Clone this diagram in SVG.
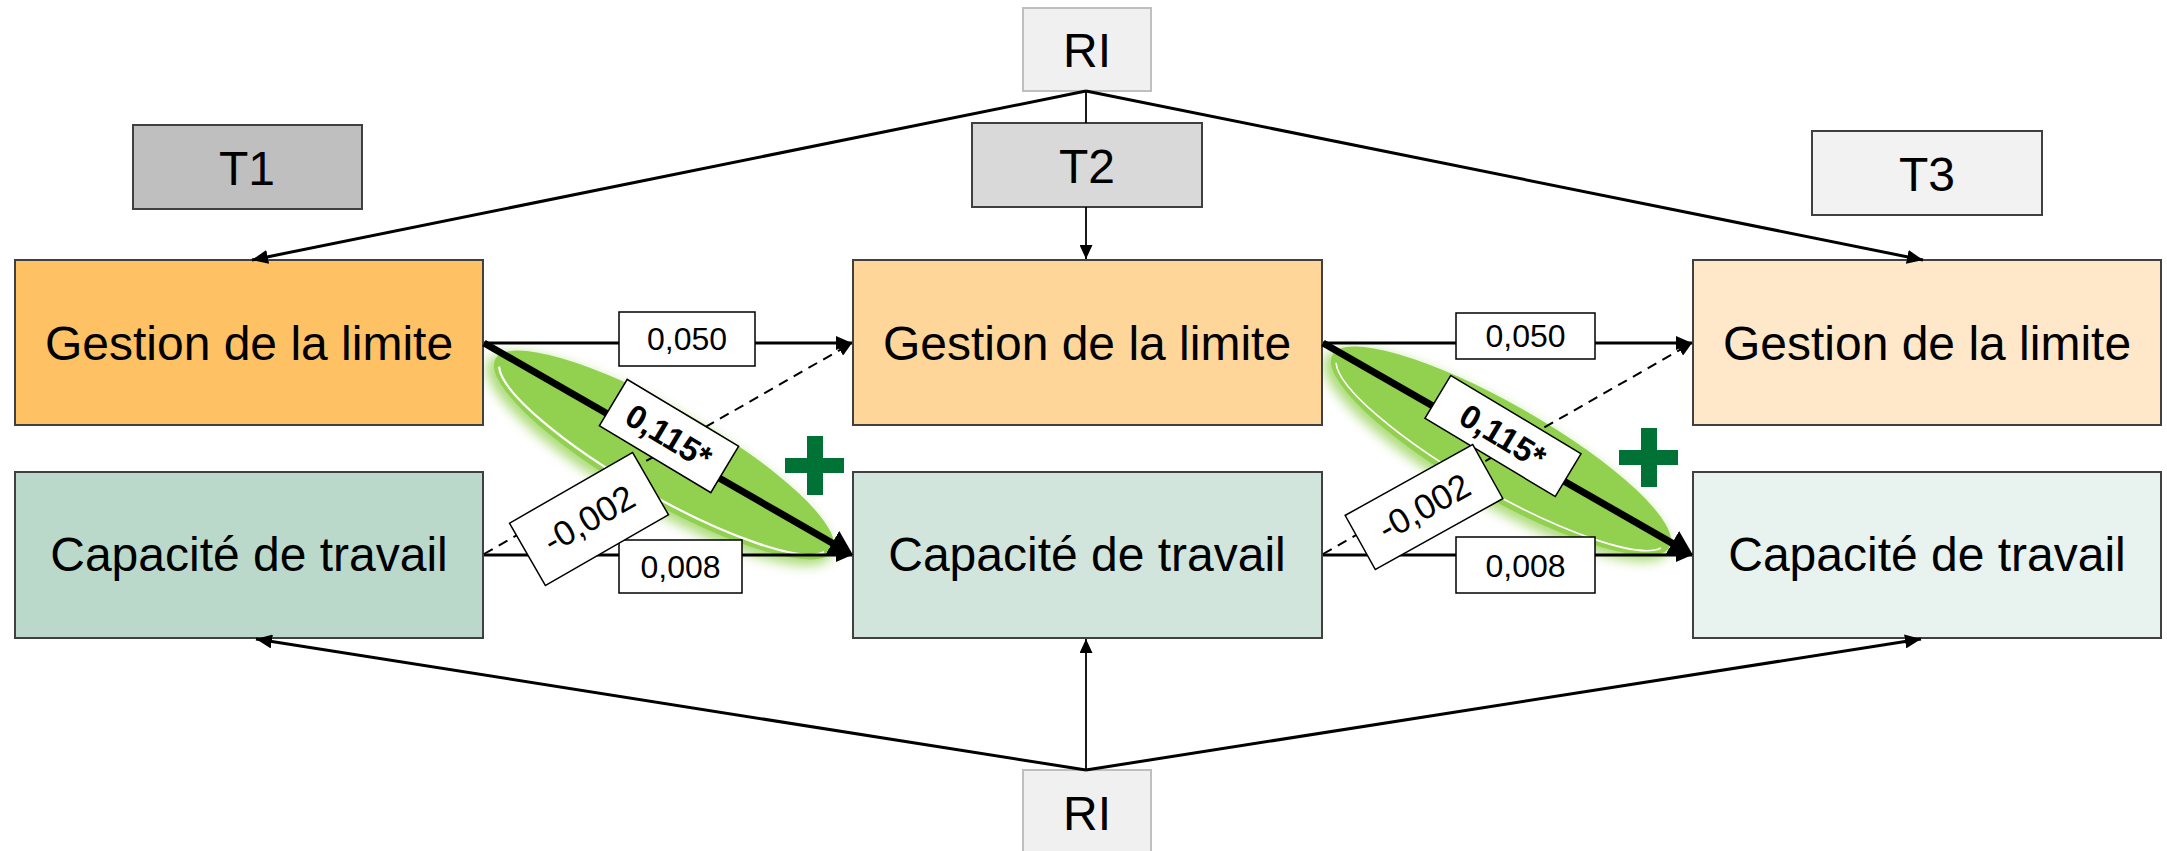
<svg xmlns="http://www.w3.org/2000/svg" width="2167" height="851" viewBox="0 0 2167 851">
<defs>
<style>
.box{stroke:#404040;stroke-width:2}
.t48{font-family:"Liberation Sans",Arial,sans-serif;font-size:48px;fill:#000;text-anchor:middle}
.lab{font-family:"Liberation Sans",Arial,sans-serif;font-size:32px;fill:#000;text-anchor:middle}
.labb{font-family:"Liberation Sans",Arial,sans-serif;font-size:33px;font-weight:bold;fill:#000;text-anchor:middle}
.lab2{font-family:"Liberation Sans",Arial,sans-serif;font-size:35px;fill:#000;text-anchor:middle}
.lbox{fill:#fff;stroke:#000;stroke-width:1.5}
.ln{stroke:#000;stroke-width:3;fill:none}
.thin{stroke:#000;stroke-width:1.8;fill:none}
.dash{stroke:#000;stroke-width:2;fill:none;stroke-dasharray:10 7}
.thick{stroke:#000;stroke-width:7;fill:none}
.plus{fill:#007236}
</style>
<marker id="ah" markerUnits="userSpaceOnUse" markerWidth="16" markerHeight="14" refX="16" refY="7" orient="auto"><path d="M0,0 L16,7 L0,14 z" fill="#000"/></marker>
<marker id="ahs" markerUnits="userSpaceOnUse" markerWidth="14" markerHeight="13" refX="14" refY="6.5" orient="auto"><path d="M0,0 L14,6.5 L0,13 z" fill="#000"/></marker>
<marker id="ahb" markerUnits="userSpaceOnUse" markerWidth="24" markerHeight="28" refX="10" refY="14" orient="auto"><path d="M0,0 L24,14 L0,28 z" fill="#000"/></marker>
<filter id="glow" x="-30%" y="-80%" width="160%" height="260%"><feGaussianBlur stdDeviation="6"/></filter>
</defs>
<rect width="2167" height="851" fill="#fff"/>

<g id="ovals">
<g transform="translate(664,455) rotate(29.7)">
<ellipse cx="-2" cy="6" rx="197" ry="49" fill="#92D050" opacity="0.75" filter="url(#glow)"/>
<ellipse cx="0" cy="0" rx="194" ry="47" fill="#92D050"/>
<path d="M-187,5 A189 42 0 0 0 187,5" fill="none" stroke="#fff" stroke-width="2.2"/>
</g>
<g transform="translate(1501,451) rotate(29.7)">
<ellipse cx="-2" cy="6" rx="197" ry="49" fill="#92D050" opacity="0.75" filter="url(#glow)"/>
<ellipse cx="0" cy="0" rx="194" ry="47" fill="#92D050"/>
<path d="M-187,5 A189 42 0 0 0 187,5" fill="none" stroke="#fff" stroke-width="1.6"/>
</g>
</g>

<g id="RI_top"><rect x="1023" y="8" width="128" height="83" fill="#F0F0F0" stroke="#BFBFBF" stroke-width="2"/><text class="t48" x="1087" y="67">RI</text></g>
<g id="RI_bottom"><rect x="1023" y="770" width="128" height="90" fill="#F0F0F0" stroke="#BFBFBF" stroke-width="2"/><text class="t48" x="1087" y="830">RI</text></g>
<g id="T1"><rect class="box" x="133" y="125" width="229" height="84" fill="#BFBFBF"/><text class="t48" x="247" y="185">T1</text></g>
<g id="T2"><rect class="box" x="972" y="123" width="230" height="84" fill="#D9D9D9"/><text class="t48" x="1087" y="183">T2</text></g>
<g id="T3"><rect class="box" x="1812" y="131" width="230" height="84" fill="#F2F2F2"/><text class="t48" x="1927" y="191">T3</text></g>

<g id="GL1"><rect class="box" x="15" y="260" width="468" height="165" fill="#FEC164"/><text class="t48" x="249" y="360">Gestion de la limite</text></g>
<g id="GL2"><rect class="box" x="853" y="260" width="469" height="165" fill="#FED699"/><text class="t48" x="1087" y="360">Gestion de la limite</text></g>
<g id="GL3"><rect class="box" x="1693" y="260" width="468" height="165" fill="#FFE8C9"/><text class="t48" x="1927" y="360">Gestion de la limite</text></g>
<g id="CT1"><rect class="box" x="15" y="472" width="468" height="166" fill="#BBD9CB"/><text class="t48" x="249" y="571">Capacité de travail</text></g>
<g id="CT2"><rect class="box" x="853" y="472" width="469" height="166" fill="#D2E5DD"/><text class="t48" x="1087" y="571">Capacité de travail</text></g>
<g id="CT3"><rect class="box" x="1693" y="472" width="468" height="166" fill="#E8F2EE"/><text class="t48" x="1927" y="571">Capacité de travail</text></g>

<g id="connectors">
<line class="ln" x1="1086" y1="91" x2="252" y2="260" marker-end="url(#ah)"/>
<line class="ln" x1="1086" y1="91" x2="1923" y2="260" marker-end="url(#ah)"/>
<line class="thin" x1="1086" y1="91" x2="1086" y2="123"/>
<line class="thin" x1="1086" y1="207" x2="1086" y2="259" marker-end="url(#ahs)"/>
<line class="ln" x1="1086" y1="770" x2="256" y2="639" marker-end="url(#ah)"/>
<line class="ln" x1="1086" y1="770" x2="1921" y2="639" marker-end="url(#ah)"/>
<line class="thin" x1="1086" y1="770" x2="1086" y2="639" marker-end="url(#ahs)"/>

<line class="ln" x1="484" y1="343" x2="852" y2="343" marker-end="url(#ah)"/>
<line class="ln" x1="484" y1="555" x2="852" y2="555" marker-end="url(#ah)"/>
<line class="dash" x1="484" y1="554" x2="852" y2="343" marker-end="url(#ahs)"/>
<line class="thick" x1="484" y1="343" x2="840.9" y2="548" marker-end="url(#ahb)"/>

<line class="ln" x1="1323" y1="343" x2="1692" y2="343" marker-end="url(#ah)"/>
<line class="ln" x1="1323" y1="555" x2="1692" y2="555" marker-end="url(#ah)"/>
<line class="dash" x1="1323" y1="554" x2="1692" y2="343" marker-end="url(#ahs)"/>
<line class="thick" x1="1323" y1="343" x2="1680.8" y2="548.1" marker-end="url(#ahb)"/>
</g>

<g id="labels">
<rect class="lbox" x="619" y="312" width="136" height="54"/><text class="lab" x="687" y="350">0,050</text>
<rect class="lbox" x="619" y="540" width="123" height="53"/><text class="lab" x="680.5" y="578">0,008</text>
<g transform="translate(669,436) rotate(31)"><rect class="lbox" x="-65" y="-27" width="130" height="54"/><text class="labb" x="0" y="12">0,115*</text></g>
<g transform="translate(589,519) rotate(-29.9)"><rect class="lbox" x="-71" y="-36" width="142" height="72"/><text class="lab2" x="0" y="12">-0,002</text></g>

<rect class="lbox" x="1456" y="313" width="139" height="46"/><text class="lab" x="1525.5" y="347">0,050</text>
<rect class="lbox" x="1456" y="537" width="139" height="56"/><text class="lab" x="1525.5" y="577">0,008</text>
<g transform="translate(1503,436) rotate(31)"><rect class="lbox" x="-76" y="-25" width="152" height="50"/><text class="labb" x="0" y="12">0,115*</text></g>
<g transform="translate(1424,507) rotate(-29.1)"><rect class="lbox" x="-73" y="-31" width="146" height="62"/><text class="lab2" x="0" y="12">-0,002</text></g>
</g>

<g id="plus1"><rect class="plus" x="807" y="436" width="16" height="59"/><rect class="plus" x="785" y="458" width="59" height="15"/></g>
<g id="plus2"><rect class="plus" x="1641" y="428" width="16" height="59"/><rect class="plus" x="1619" y="450" width="59" height="15"/></g>
</svg>
